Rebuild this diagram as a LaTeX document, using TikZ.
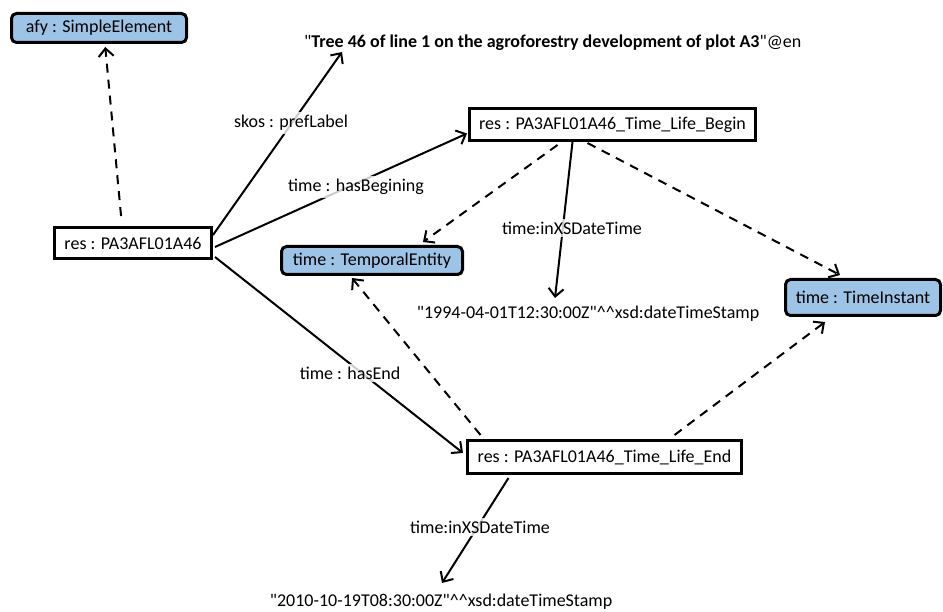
\documentclass[tikz,border=0pt]{standalone}
\usepackage{fontspec}
\setmainfont{Carlito}[Ligatures=TeXOff]
\usetikzlibrary{arrows.meta,calc}
\definecolor{boxblue}{HTML}{9DC3E6}
\tikzset{
  resbox/.style={draw=black, line width=3pt, fill=white, inner sep=0pt, font=\fontsize{18}{21}\selectfont},
  classbox/.style={draw=black, line width=3pt, fill=boxblue, rounded corners=5pt, inner sep=0pt, font=\fontsize{18}{21}\selectfont},
  lit/.style={inner sep=1pt, font=\fontsize{18}{21}\selectfont},
  elabel/.style={fill=white, fill opacity=0.8, text opacity=1, inner sep=3pt, font=\fontsize{18}{21}\selectfont},
  rel/.style={line width=2pt, -{Straight Barb[length=8pt,width=15pt,line width=2pt]}},
  typ/.style={rel, dash pattern=on 9pt off 7pt},
}
\begin{document}
\begin{tikzpicture}[x=1pt,y=-1pt]
\useasboundingbox (0,0) rectangle (943,612);
% nodes
\node[classbox, minimum width=175pt, minimum height=29pt] (afy) at (99,28) {afy : SimpleElement};
\node[resbox, minimum width=157pt, minimum height=31pt] (res) at (133,243) {res : PA3AFL01A46};
\node[resbox, minimum width=286pt, minimum height=32pt] (begin) at (612.5,124.5) {res : PA3AFL01A46\_Time\_Life\_Begin};
\node[classbox, minimum width=181pt, minimum height=28pt] (tent) at (372,260.5) {time : TemporalEntity};
\node[classbox, minimum width=155pt, minimum height=36pt] (tinst) at (863,297.5) {time : TimeInstant};
\node[resbox, minimum width=274pt, minimum height=33pt] (end) at (604.5,457) {res : PA3AFL01A46\_Time\_Life\_End};
\node[lit, anchor=west] (title) at (303,43) {"\textbf{Tree 46 of line 1 on the agroforestry development of plot A3}"@en};
\node[lit] (d1) at (588,314) {"1994-04-01T12:30:00Z"\textasciicircum\textasciicircum xsd:dateTimeStamp};
\node[lit] (d2) at (441,602) {"2010-10-19T08:30:00Z"\textasciicircum\textasciicircum xsd:dateTimeStamp};
% connectors
\draw[typ, shorten <=10pt, shorten >=3pt] ([xshift=-11pt]res.north) -- ([xshift=6pt]afy.south);
\draw[rel] ([yshift=8pt]res.east) -- ($(title.west)+(39,9)$);
\draw[rel] ([xshift=2pt,yshift=-4pt]res.east) -- ([xshift=-1pt,yshift=-9pt]begin.west);
\draw[rel] ([xshift=2pt,yshift=-14pt]res.east) -- ([xshift=-3pt,yshift=4pt]end.west);
\draw[typ] ([xshift=-55pt,yshift=-3pt]begin.south) -- ([xshift=51pt,yshift=3pt]tent.north);
\draw[rel] ([xshift=-40pt]begin.south) -- ($(d1)+(-33,-16)$);
\draw[typ] ([xshift=-25pt,yshift=-1pt]begin.south) -- ([xshift=-23pt,yshift=3pt]tinst.north);
\draw[typ] ([xshift=-124pt,yshift=4pt]end.north) -- ([xshift=-20pt,yshift=-2pt]tent.south);
\draw[typ] ([xshift=70pt,yshift=4pt]end.north) -- ([xshift=-38pt,yshift=-5pt]tinst.south);
\draw[rel] ([xshift=-96pt,yshift=-3pt]end.south) -- ($(d2)+(1,-19)$);
% edge labels
\node[elabel] (l1) at (291,123) {skos : prefLabel};
\node[elabel] (l2) at (356,187) {time : hasBegining};
\node[elabel] (l3) at (350,373) {time : hasEnd};
\node[elabel] (l4) at (572,228) {time:inXSDateTime};
\node[elabel] (l5) at (480,527) {time:inXSDateTime};
\end{tikzpicture}
\end{document}
